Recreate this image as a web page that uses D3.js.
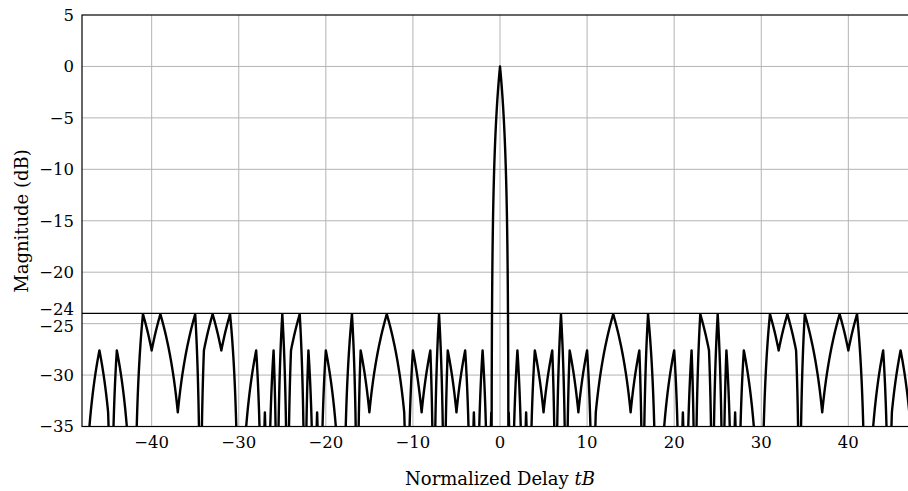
<!DOCTYPE html>
<html><head><meta charset="utf-8">
<script src="https://cdn.jsdelivr.net/npm/d3@7"></script>
<style>body{margin:0;background:#fff;overflow:hidden}text{font-family:"DejaVu Serif",serif;fill:#000}</style>
</head><body><svg id="c" width="908" height="491"></svg>
<script>
// ---- data ----
const codeLength = 48;                       // peak of the autocorrelation (0 dB)
const sidelobeLags = d3.range(1, 48);        // lags 1..47 ; the curve is symmetric about 0
const sidelobeValues = [                     // signed correlation value at each lag
  -1, 2, -1, 2, 1, 2, -3, 2, 1, 2,
  -1, -2, -3, -2, -1, -2, 3, 0, -1, -2,
  1, -2, 3, 2, -3, 2, -1, 2, 1, 0,
  3, 2, 3, 2, -3, -2, -1, -2, -3, -2,
  -3, 0, 1, 2, -1, -2, -1
];
const xDomain = [-48, 48];
const yDomain = [-35, 5];
const xTicks = [-40, -30, -20, -10, 0, 10, 20, 30, 40];
const yTicks = [5, 0, -5, -10, -15, -20, -24, -25, -30, -35];
const yGrid = [0, -5, -10, -15, -20, -25, -30];
const pslLevel = -24;

// ---- drawing ----
const svg = d3.select("#c");
const x = d3.scaleLinear().domain(xDomain).range([82, 918]);
const y = d3.scaleLinear().domain(yDomain).range([426.5, 15]);
const X0 = x(xDomain[0]), X1 = x(xDomain[1]), Y0 = y(yDomain[1]), Y1 = y(yDomain[0]);

// full signed autocorrelation at integer lags
const R = new Map();
R.set(0, codeLength);
sidelobeLags.forEach((k, i) => { R.set(k, sidelobeValues[i]); R.set(-k, sidelobeValues[i]); });
R.set(xDomain[0], 0); R.set(xDomain[1], 0);

const toDb = a => { const m = Math.abs(a); return m < 1e-9 ? -45 : Math.max(-45, 20 * Math.log10(m / codeLength)); };

// continuous response of rectangular chips: linear in amplitude between lags
const pts = [];
const N = 40;
for (let k = xDomain[0]; k < xDomain[1]; k++) {
  const a = R.get(k), b = R.get(k + 1);
  const ts = d3.range(N).map(i => i / N);
  if (a * b < 0) ts.push(a / (a - b));
  ts.sort((p, q) => p - q);
  ts.forEach(t => pts.push([k + t, toDb(a + (b - a) * t)]));
}
pts.push([xDomain[1], toDb(R.get(xDomain[1]))]);

svg.append("defs").append("clipPath").attr("id", "clip")
  .append("rect").attr("x", X0).attr("y", Y0).attr("width", X1 - X0).attr("height", Y1 - Y0);

// grid
svg.append("g").selectAll("line").data(xTicks).join("line")
  .attr("x1", d => x(d)).attr("x2", d => x(d)).attr("y1", Y0).attr("y2", Y1)
  .attr("stroke", "#b4b4b4").attr("stroke-width", 1);
svg.append("g").selectAll("line").data(yGrid).join("line")
  .attr("x1", X0).attr("x2", X1).attr("y1", d => y(d)).attr("y2", d => y(d))
  .attr("stroke", "#b4b4b4").attr("stroke-width", 1);

// curve
svg.append("path").datum(pts)
  .attr("clip-path", "url(#clip)")
  .attr("fill", "none").attr("stroke", "#000").attr("stroke-width", 2.4)
  .attr("stroke-linejoin", "round")
  .attr("d", d3.line().x(d => x(d[0])).y(d => y(d[1])));

// PSL line
svg.append("line").attr("x1", X0).attr("x2", X1).attr("y1", y(pslLevel)).attr("y2", y(pslLevel))
  .attr("stroke", "#000").attr("stroke-width", 1.3);

// frame
svg.append("rect").attr("x", X0).attr("y", Y0).attr("width", X1 - X0).attr("height", Y1 - Y0)
  .attr("fill", "none").attr("stroke", "#000").attr("stroke-width", 1.2);

const fmt = d3.format("d");
// x tick labels
svg.append("g").selectAll("text").data(xTicks).join("text")
  .attr("x", d => x(d)).attr("y", 447.5).attr("text-anchor", "middle")
  .attr("font-size", 16.5).text(d => fmt(d));
// y tick labels
const nudge = { "-24": -4, "-25": 2.5 };
svg.append("g").selectAll("text").data(yTicks).join("text")
  .attr("x", 74).attr("y", d => y(d) + (nudge[d] || 0)).attr("dy", "0.36em")
  .attr("text-anchor", "end").attr("font-size", 16.5).text(d => fmt(d));

// axis titles
const xt = svg.append("text").attr("x", 500).attr("y", 484.5).attr("text-anchor", "middle").attr("font-size", 18);
xt.append("tspan").text("Normalized Delay ");
xt.append("tspan").attr("font-style", "italic").text("tB");
svg.append("text").attr("transform", "translate(28,221) rotate(-90)")
  .attr("text-anchor", "middle").attr("font-size", 18).text("Magnitude (dB)");
</script></body></html>
